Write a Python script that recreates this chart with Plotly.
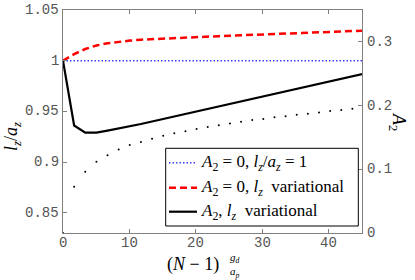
import plotly.graph_objects as go

# ---- data ----
x_vals = [0, 1.675, 3.35, 5.03, 6.7, 8.38, 10.05, 11.73, 13.4, 15.08, 16.75, 18.43,
          20.1, 21.78, 23.45, 25.13, 26.8, 28.48, 30.15, 31.83, 33.5, 35.18, 36.85,
          38.53, 40.2, 41.88, 43.55, 45.23]
blue_const = [1.0] * len(x_vals)
red_var = [1.0, 1.0065, 1.0115, 1.015, 1.0172, 1.0188, 1.0198, 1.0207, 1.0213, 1.0219,
           1.0224, 1.0229, 1.0234, 1.0238, 1.0242, 1.0247, 1.0251, 1.0256, 1.026,
           1.0264, 1.0268, 1.0272, 1.0276, 1.028, 1.0284, 1.0288, 1.0292, 1.0296]
black_var = [1.0, 0.936, 0.929, 0.929, 0.931, 0.933, 0.935, 0.9375, 0.940, 0.9425,
             0.945, 0.9475, 0.950, 0.9525, 0.955, 0.9575, 0.960, 0.9625, 0.965, 0.967,
             0.9695, 0.972, 0.9745, 0.977, 0.9795, 0.982, 0.9845, 0.987]
a2_vals = [0.0, 0.0724, 0.096, 0.112, 0.122, 0.131, 0.138, 0.1428, 0.148, 0.1528,
           0.1565, 0.1597, 0.1633, 0.1665, 0.1691, 0.172, 0.1748, 0.1775, 0.179,
           0.1817, 0.1833, 0.1854, 0.187, 0.189, 0.1915, 0.193, 0.195, 0.197]

x_ticks = [0, 10, 20, 30, 40]
x_ticktext = ["0", "10", "20", "30", "40"]
y_ticks = [0.85, 0.9, 0.95, 1.0, 1.05]
y_ticktext = ["0.85", "0.9", "0.95", "1", "1.05"]
y2_ticks = [0, 0.1, 0.2, 0.3]
y2_ticktext = ["0", "0.1", "0.2", "0.3"]

legend_labels = [
    "<i>A</i><sub>2</sub> = 0, <i>l<sub>z</sub></i>/<i>a<sub>z</sub></i> = 1",
    "<i>A</i><sub>2</sub> = 0, <i>l<sub>z</sub></i>  variational",
    "<i>A</i><sub>2</sub>, <i>l<sub>z</sub></i>  variational",
]
colors = ["rgb(60,60,255)", "rgb(255,0,0)", "black"]
dashes = ["1.5px,2px", "7px,4px", "solid"]
widths = [1.5, 2.5, 2.2]

# ---- layout geometry (pixels) ----
W, H = 415, 280
L, R, T, B = 63, 53, 10, 47
PW, PH = W - L - R, H - T - B


def px(xp):
    return (xp - L) / PW


def py(yp):
    return (H - B - yp) / PH


fig = go.Figure()
series = [blue_const, red_var, black_var]
for s, c, d, w in zip(series, colors, dashes, widths):
    fig.add_trace(go.Scatter(x=x_vals, y=s, mode="lines",
                             line=dict(color=c, dash=d, width=w),
                             showlegend=False))
fig.add_trace(go.Scatter(x=x_vals, y=a2_vals, yaxis="y2", mode="markers",
                         marker=dict(color="black", size=2),
                         showlegend=False))

tickfont = dict(family="Liberation Mono", size=14, color="#555555")
axcol = "#808080"
fig.update_layout(
    width=W, height=H,
    margin=dict(l=L, r=R, t=T, b=B),
    plot_bgcolor="white", paper_bgcolor="white",
    xaxis=dict(range=[0, 45], tickvals=x_ticks, showticklabels=False,
               ticks="inside", ticklen=4,
               tickcolor=axcol, showline=True, linecolor=axcol, linewidth=1,
               mirror="ticks", showgrid=False, zeroline=False),
    yaxis=dict(range=[0.83, 1.05], tickvals=y_ticks, showticklabels=False,
               ticks="inside", ticklen=4, tickcolor=axcol, showline=True,
               linecolor=axcol, linewidth=1, mirror=True, showgrid=False,
               zeroline=False),
    yaxis2=dict(range=[0, 0.35], tickvals=y2_ticks, showticklabels=False,
                overlaying="y", side="right", ticks="inside", ticklen=4,
                tickcolor=axcol, showline=True, linecolor=axcol, linewidth=1,
                showgrid=False, zeroline=False),
)

serif = "Liberation Serif"
ann = []
# tick labels (bottom, left and right axes)
for v, t in zip(x_ticks, x_ticktext):
    ann.append(dict(x=v, xref="x", y=py(243), text=t, font=tickfont))
for v, t in zip(y_ticks, y_ticktext):
    ann.append(dict(x=px(61), y=v, yref="y", text=t, xanchor="right", font=tickfont))
for v, t in zip(y2_ticks, y2_ticktext):
    ann.append(dict(x=px(365), y=v, yref="y2", text=t, xanchor="left", font=tickfont))

# axis titles
ann.append(dict(x=px(12), y=py(137), text="<i>l<sub>z</sub></i>/<i>a<sub>z</sub></i>",
                textangle=-90, font=dict(family=serif, size=18, color="black")))
ann.append(dict(x=px(398), y=py(122), text="<i>A</i><sub>2</sub>",
                textangle=90, font=dict(family=serif, size=18, color="black")))
ann.append(dict(x=px(193), y=py(264), text="(<i>N</i> − 1)",
                font=dict(family=serif, size=18, color="black")))
ann.append(dict(x=px(235), y=py(265), text="<i>g<sub>d</sub></i><br><i>a<sub>p</sub></i>",
                font=dict(family=serif, size=11, color="black")))

# legend box (manual)
shapes = [dict(type="rect", xref="paper", yref="paper",
               x0=px(165.7), x1=px(358.3), y0=py(226), y1=py(148.3),
               line=dict(color="black", width=1), fillcolor="white", layer="above")]
rows = [162.7, 187.7, 211.7]
for lab, c, d, w, r in zip(legend_labels, colors, dashes, widths, rows):
    shapes.append(dict(type="line", xref="paper", yref="paper",
                       x0=px(169), x1=px(197), y0=py(r), y1=py(r),
                       line=dict(color=c, dash=d, width=w), layer="above"))
    ann.append(dict(x=px(199), y=py(r), text=lab, xanchor="left",
                    font=dict(family=serif, size=17, color="black")))

for a in ann:
    a.setdefault("xref", "paper")
    a.setdefault("yref", "paper")
    a.setdefault("showarrow", False)
    a.setdefault("xanchor", "center")
    a.setdefault("yanchor", "middle")
fig.update_layout(annotations=ann, shapes=shapes)

fig.write_html("out.html", config={"displayModeBar": False})

# remove the default page margin so the figure sits at the window's corner
with open("out.html", encoding="utf-8") as f:
    html = f.read()
html = html.replace("<head>", "<head><style>html,body{margin:0;padding:0;overflow:hidden;}</style>", 1)
with open("out.html", "w", encoding="utf-8") as f:
    f.write(html)
